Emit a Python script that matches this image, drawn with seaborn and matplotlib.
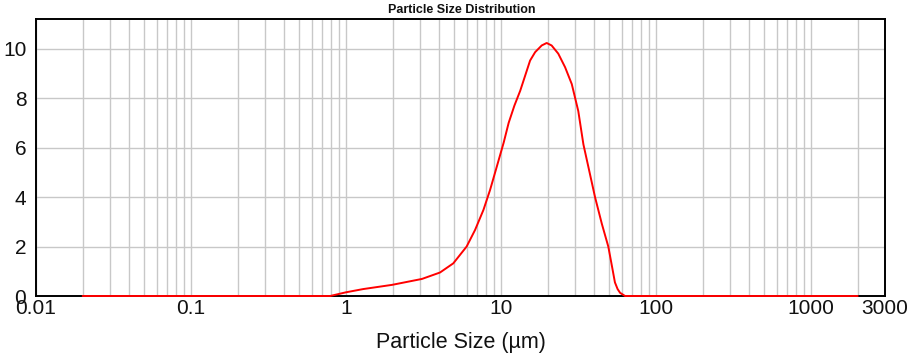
import numpy as np
import matplotlib
matplotlib.use("Agg")
import matplotlib.pyplot as plt
import seaborn as sns
from matplotlib.ticker import LogLocator, FixedLocator, FixedFormatter, NullFormatter

# particle size (um) and volume (%)
size_um = [0.02, 0.79, 1.0, 1.29, 1.98, 3.09, 4.04, 4.92, 6.0, 6.8, 7.7, 8.5, 9.4,
           10.4, 11.2, 12.2, 13.3, 15.4, 16.6, 18.3, 19.7, 21.2, 23.4, 25.9, 28.6,
           31.5, 34.0, 37.2, 40.4, 44.7, 49.2, 51.8, 54.3, 56.5, 58.6, 63.1, 2000.0]
volume_pct = [0.0, 0.0, 0.15, 0.28, 0.45, 0.69, 0.95, 1.32, 2.0, 2.67, 3.48, 4.29, 5.24,
              6.2, 7.0, 7.7, 8.3, 9.52, 9.86, 10.13, 10.23, 10.13, 9.8, 9.25, 8.57,
              7.48, 6.13, 5.02, 4.0, 2.92, 2.0, 1.25, 0.55, 0.28, 0.13, 0.0, 0.0]

x_ticks = [0.01, 0.1, 1, 10, 100, 1000, 3000]
x_tick_labels = ["0.01", "0.1", "1", "10", "100", "1000", "3000"]
y_ticks = [0, 2, 4, 6, 8, 10]

sns.set_theme(style="white")
plt.rcParams["font.family"] = ["Liberation Sans", "DejaVu Sans"]

fig = plt.figure(figsize=(9.2, 3.56), dpi=100)
ax = fig.add_axes([36 / 920, 1 - 296 / 356, (885 - 36) / 920, (296 - 19) / 356])

ax.set_xscale("log")
sns.lineplot(x=size_um, y=volume_pct, color="#ff0000", linewidth=1.4, ax=ax,
             zorder=4, clip_on=False)

ax.set_xlim(0.01, 3000)
ax.set_ylim(0, 11.2)

ax.xaxis.set_major_locator(FixedLocator(x_ticks))
ax.xaxis.set_major_formatter(FixedFormatter(x_tick_labels))
ax.xaxis.set_minor_locator(LogLocator(base=10, subs=np.arange(2, 10)))
ax.xaxis.set_minor_formatter(NullFormatter())
ax.set_yticks(y_ticks)

ax.grid(True, which="both", axis="x", color="#c8c8c8", linewidth=1.0)
ax.grid(True, which="major", axis="y", color="#c8c8c8", linewidth=1.0)
ax.set_axisbelow(True)

ax.tick_params(axis="both", which="both", length=0, labelsize=15, colors="#111111")
ax.tick_params(axis="x", pad=2)
ax.tick_params(axis="y", pad=7)

for side in ["left", "bottom", "right", "top"]:
    ax.spines[side].set_color("black")
    ax.spines[side].set_linewidth(1.4)
    ax.spines[side].set_visible(True)

ax.set_xlabel("Particle Size (µm)", fontsize=15.5, labelpad=10, color="#111111")
ax.set_ylabel("")

fig.text(462 / 920, 1 - 10 / 356, "Particle Size Distribution", ha="center", va="center",
         fontsize=9, fontweight="bold", color="#111111")

fig.savefig("out.png", dpi=100)
